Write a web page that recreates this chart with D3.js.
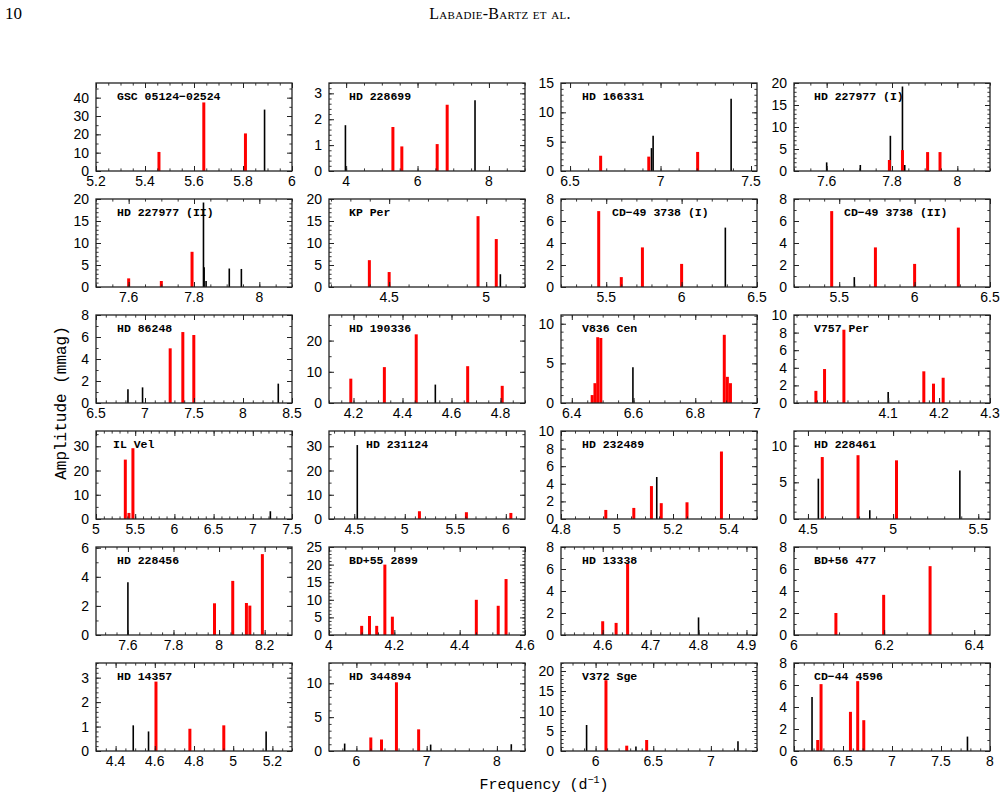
<!DOCTYPE html>
<html>
<head>
<meta charset="utf-8">
<script src="https://cdn.jsdelivr.net/npm/d3@7"></script>
<style>
  body { margin: 0; background: #fff; }
  svg text { fill: #000; }
</style>
</head>
<body>
<div id="chart"></div>
<script>
// star names, one per panel (row by row)
const names = ["GSC 05124\u221202524", "HD 228699", "HD 166331", "HD 227977 (I)",
  "HD 227977 (II)", "KP Per", "CD\u221249 3738 (I)", "CD\u221249 3738 (II)",
  "HD 86248", "HD 190336", "V836 Cen", "V757 Per",
  "IL Vel", "HD 231124", "HD 232489", "HD 228461",
  "HD 228456", "BD+55 2899", "HD 13338", "BD+56 477",
  "HD 14357", "HD 344894", "V372 Sge", "CD\u221244 4596"];

// frequency range of each panel (d^-1)
const xDomains = [[5.2, 6], [3.52, 9.01], [6.45, 7.533], [7.5, 8.1],
  [7.5, 8.1], [4.19, 5.2], [5.2, 6.5], [5.2, 6.5],
  [6.5, 8.5], [4.1, 4.9], [6.365, 7.0], [3.915, 4.3],
  [5, 7.5], [4.25, 6.19], [4.8, 5.5], [4.418, 5.569],
  [7.46, 8.32], [4, 4.6], [4.513, 4.922], [6, 6.435],
  [4.3, 5.3], [5.61, 8.4], [5.7, 7.4], [6, 8]];

// amplitude top of each panel (mmag)
const yMax = [48, 3.4, 15, 20, 20, 20, 8, 8, 8, 28.2, 11.1, 10,
  36.3, 36.3, 10, 12, 6.05, 25, 8, 8, 3.6, 13, 22, 8];

// labelled ticks
const xTickLabels = [[5.2, 5.4, 5.6, 5.8, 6], [4, 6, 8], [6.5, 7, 7.5], [7.6, 7.8, 8],
  [7.6, 7.8, 8], [4.5, 5], [5.5, 6, 6.5], [5.5, 6, 6.5],
  [6.5, 7, 7.5, 8, 8.5], [4.2, 4.4, 4.6, 4.8], [6.4, 6.6, 6.8, 7], [4.1, 4.2, 4.3],
  [5, 5.5, 6, 6.5, 7, 7.5], [4.5, 5, 5.5, 6], [4.8, 5, 5.2, 5.4], [4.5, 5, 5.5],
  [7.6, 7.8, 8, 8.2], [4, 4.2, 4.4, 4.6], [4.6, 4.7, 4.8, 4.9], [6, 6.2, 6.4],
  [4.4, 4.6, 4.8, 5, 5.2], [6, 7, 8], [6, 6.5, 7], [6, 6.5, 7, 7.5, 8]];
const xMinorSub = [4, 4, 5, 4, 4, 5, 5, 5, 5, 4, 4, 5,
  5, 5, 4, 5, 4, 4, 5, 4, 4, 5, 5, 5];

const yTickLabels = [[0, 10, 20, 30, 40], [0, 1, 2, 3], [0, 5, 10, 15], [0, 5, 10, 15, 20],
  [0, 5, 10, 15, 20], [0, 5, 10, 15, 20], [0, 2, 4, 6, 8], [0, 2, 4, 6, 8],
  [0, 2, 4, 6, 8], [0, 10, 20], [0, 5, 10], [0, 2, 4, 6, 8, 10],
  [0, 10, 20, 30], [0, 10, 20, 30], [0, 2, 4, 6, 8, 10], [0, 5, 10],
  [0, 2, 4, 6], [0, 5, 10, 15, 20, 25], [0, 2, 4, 6, 8], [0, 2, 4, 6, 8],
  [0, 1, 2, 3], [0, 5, 10], [0, 5, 10, 15, 20], [0, 2, 4, 6, 8]];
const yMinorSub = [2, 5, 5, 5, 5, 5, 2, 2, 2, 2, 5, 2,
  2, 2, 2, 5, 2, 5, 2, 2, 5, 5, 5, 2];

// pulsation frequencies, amplitudes, and whether the mode is a
// combination/other (black, "k") or an independent mode (red, "r")
const freqs = [
  [5.457, 5.64, 5.81, 5.888],
  [3.98, 5.31, 5.56, 6.55, 6.83, 7.61],
  [6.669, 6.935, 6.95, 6.959, 7.205, 7.39],
  [7.60, 7.703, 7.792, 7.795, 7.832, 7.832, 7.839, 7.909, 7.947],
  [7.60, 7.70, 7.794, 7.829, 7.831, 7.837, 7.908, 7.945],
  [4.398, 4.50, 4.958, 5.052, 5.073],
  [5.45, 5.60, 5.74, 6.0, 6.29],
  [5.45, 5.60, 5.74, 6.0, 6.29],
  [6.826, 6.975, 7.257, 7.386, 7.498, 8.36],
  [4.189, 4.326, 4.456, 4.534, 4.666, 4.807],
  [6.466, 6.475, 6.484, 6.494, 6.598, 6.894, 6.904, 6.914],
  [3.958, 3.975, 4.013, 4.10, 4.17, 4.189, 4.208],
  [5.374, 5.42, 5.471, 7.224],
  [4.53, 5.145, 5.61, 6.05],
  [4.96, 5.06, 5.123, 5.142, 5.158, 5.25, 5.373],
  [4.561, 4.584, 4.794, 4.863, 5.02, 5.392],
  [7.60, 7.98, 8.06, 8.12, 8.135, 8.19],
  [4.10, 4.124, 4.146, 4.171, 4.194, 4.451, 4.518, 4.542],
  [4.60, 4.628, 4.652, 4.80],
  [6.093, 6.199, 6.302],
  [4.49, 4.568, 4.606, 4.779, 4.952, 5.168],
  [5.833, 6.205, 6.357, 6.57, 6.886, 7.057, 8.205],
  [5.922, 6.09, 6.27, 6.35, 6.443, 7.235],
  [6.184, 6.242, 6.276, 6.576, 6.65, 6.712, 7.77]
];
const amps = [
  [10.4, 37.4, 20.5, 33.5],
  [1.77, 1.70, 0.95, 1.04, 2.56, 2.73],
  [2.6, 2.45, 3.9, 6.0, 3.25, 12.3],
  [1.96, 1.36, 2.5, 8.0, 19.2, 4.75, 1.36, 4.3, 4.3],
  [1.96, 1.36, 8.0, 19.2, 4.5, 1.36, 4.2, 4.1],
  [6.1, 3.4, 16.1, 10.9, 2.9],
  [6.9, 0.9, 3.6, 2.1, 5.4],
  [6.9, 0.9, 3.6, 2.1, 5.4],
  [1.24, 1.42, 4.97, 6.45, 6.18, 1.76],
  [7.8, 11.5, 22.0, 5.9, 11.8, 5.5],
  [1.0, 2.5, 8.3, 8.2, 4.5, 8.6, 3.3, 2.5],
  [1.38, 3.86, 8.33, 1.26, 3.6, 2.2, 2.87],
  [24.5, 2.5, 29.2, 3.2],
  [30.5, 3.2, 2.8, 2.5],
  [1.03, 1.26, 3.74, 4.77, 1.8, 1.9, 7.67],
  [5.5, 8.45, 8.7, 1.2, 8.0, 6.6],
  [3.63, 2.18, 3.72, 2.2, 2.02, 5.56],
  [2.6, 5.4, 2.6, 20.0, 5.2, 10.0, 8.3, 15.9],
  [1.25, 1.1, 6.47, 1.6],
  [2.0, 3.65, 6.26],
  [1.05, 0.8, 2.84, 0.91, 1.05, 0.8],
  [1.1, 2.0, 1.7, 10.15, 3.2, 0.95, 1.0],
  [6.5, 17.7, 1.33, 1.1, 2.75, 2.42],
  [4.92, 1.0, 6.08, 3.56, 6.35, 2.8, 1.31]
];
const kinds = [
  "rrrk", "krrrrk", "rrkkrk", "kkrkkrkrr",
  "rrrkkkkk", "rrrrk", "rrrrk", "rkrrr",
  "kkrrrk", "rrrkrr", "rrrrkrrr", "rrrkrrr",
  "rrrk", "krrr", "rrrkrrr", "krrkrk",
  "krrrrr", "rrrrrrrr", "rrrk", "rrr",
  "kkrrrk", "krrrrkk", "krrkrk", "krrrrrk"
];

// title offset from the panel's left edge (px)
const titleDx = [21, 20, 21, 20, 21, 20, 51, 50, 21, 20, 21, 20,
  17, 37, 21, 20, 21, 20, 21, 20, 21, 20, 21, 20];

const W = 1005, H = 799;
const colX = [96, 329, 561, 794];
const rowY = [83, 199, 315, 431, 547, 663];
const pw = 196, ph = 88;
const majLen = 5, minLen = 2.6;
const colors = { r: "#ff0000", k: "#000000" };
const widths = { r: 3, k: 1.6 };

const svg = d3.select("#chart").append("svg")
  .attr("width", W).attr("height", H);

// running head
svg.append("text").attr("x", 5).attr("y", 19)
  .style("font-family", "Liberation Serif").style("font-size", "17px")
  .text("10");
svg.append("text").attr("x", 500).attr("y", 19).attr("text-anchor", "middle")
  .style("font-family", "Liberation Serif").style("font-size", "16px")
  .style("font-variant", "small-caps").style("letter-spacing", "0.3px")
  .text("Labadie-Bartz et al.");

function fmt(v) { return d3.format("~g")(v); }

names.forEach((name, i) => {
  const x0 = colX[i % 4], y0 = rowY[Math.floor(i / 4)];
  const g = svg.append("g").attr("transform", `translate(${x0},${y0})`);

  const x = d3.scaleLinear().domain(xDomains[i]).range([0, pw]);
  const y = d3.scaleLinear().domain([0, yMax[i]]).range([ph, 0]);

  // minor ticks from the major step
  const xt = xTickLabels[i], yt = yTickLabels[i];
  const xStep = xt.length > 1 ? xt[1] - xt[0] : 0.5;
  const yStep = yt[1] - yt[0];
  const xMinor = d3.range(Math.ceil(xDomains[i][0] / (xStep / xMinorSub[i]) - 1e-6),
      Math.floor(xDomains[i][1] / (xStep / xMinorSub[i]) + 1e-6) + 1)
    .map(k => +(k * xStep / xMinorSub[i]).toFixed(6));
  const yMinor = d3.range(0, Math.floor(yMax[i] / (yStep / yMinorSub[i]) + 1e-6) + 1)
    .map(k => +(k * yStep / yMinorSub[i]).toFixed(6));

  // bars
  const marks = freqs[i].map((f, j) => ({ f: f, a: amps[i][j], k: kinds[i][j] }));
  // black underneath red
  marks.sort((a, b) => (a.k === "r") - (b.k === "r"));
  g.selectAll("line.bar").data(marks).enter().append("line")
    .attr("class", "bar")
    .attr("x1", d => x(d.f)).attr("x2", d => x(d.f))
    .attr("y1", y(0)).attr("y2", d => y(d.a))
    .attr("stroke", d => colors[d.k])
    .attr("stroke-width", d => widths[d.k]);

  // axes with inward ticks on all four sides
  const axes = [
    { a: d3.axisBottom(x), t: `translate(0,${ph})` },
    { a: d3.axisTop(x), t: "translate(0,0)" },
    { a: d3.axisLeft(y), t: "translate(0,0)" },
    { a: d3.axisRight(y), t: `translate(${pw},0)` }
  ];
  axes.forEach((ax, n) => {
    const isX = n < 2;
    const minor = isX ? xMinor : yMinor;
    g.append("g").attr("transform", ax.t)
      .call(ax.a.tickValues(minor).tickSize(-minLen).tickFormat(""))
      .call(s => s.select(".domain").remove())
      .selectAll("line").attr("stroke", "#222").attr("stroke-width", 0.9);
    g.append("g").attr("transform", ax.t)
      .call(ax.a.tickValues(isX ? xt : yt).tickSize(-majLen).tickFormat(""))
      .call(s => s.select(".domain").remove())
      .selectAll("line").attr("stroke", "#222").attr("stroke-width", 1);
  });

  // frame
  g.append("rect").attr("width", pw).attr("height", ph)
    .attr("fill", "none").attr("stroke", "#222").attr("stroke-width", 1.3);

  // tick labels
  g.selectAll("text.xl").data(xt).enter().append("text")
    .attr("class", "xl")
    .attr("x", d => x(d)).attr("y", ph + 15)
    .attr("text-anchor", "middle")
    .style("font-family", "Liberation Sans").style("font-size", "14px")
    .text(fmt);
  g.selectAll("text.yl").data(yt).enter().append("text")
    .attr("class", "yl")
    .attr("x", -7).attr("y", d => y(d) + 5)
    .attr("text-anchor", "end")
    .style("font-family", "Liberation Sans").style("font-size", "14px")
    .text(fmt);

  // star name
  g.append("text").attr("x", titleDx[i]).attr("y", 16.5)
    .style("font-family", "Liberation Mono").style("font-size", "11.5px")
    .style("font-weight", "bold")
    .text(name);
});

// axis titles
svg.append("text")
  .attr("transform", "translate(66,403) rotate(-90)")
  .attr("text-anchor", "middle")
  .style("font-family", "Liberation Mono").style("font-size", "16px")
  .text("Amplitude (mmag)");

const xt = svg.append("text").attr("x", 544).attr("y", 789)
  .attr("text-anchor", "middle")
  .style("font-family", "Liberation Mono").style("font-size", "15px");
xt.append("tspan").text("Frequency (d");
xt.append("tspan").attr("dy", -6).style("font-size", "10px").text("\u22121");
xt.append("tspan").attr("dy", 6).text(")");
</script>
</body>
</html>
